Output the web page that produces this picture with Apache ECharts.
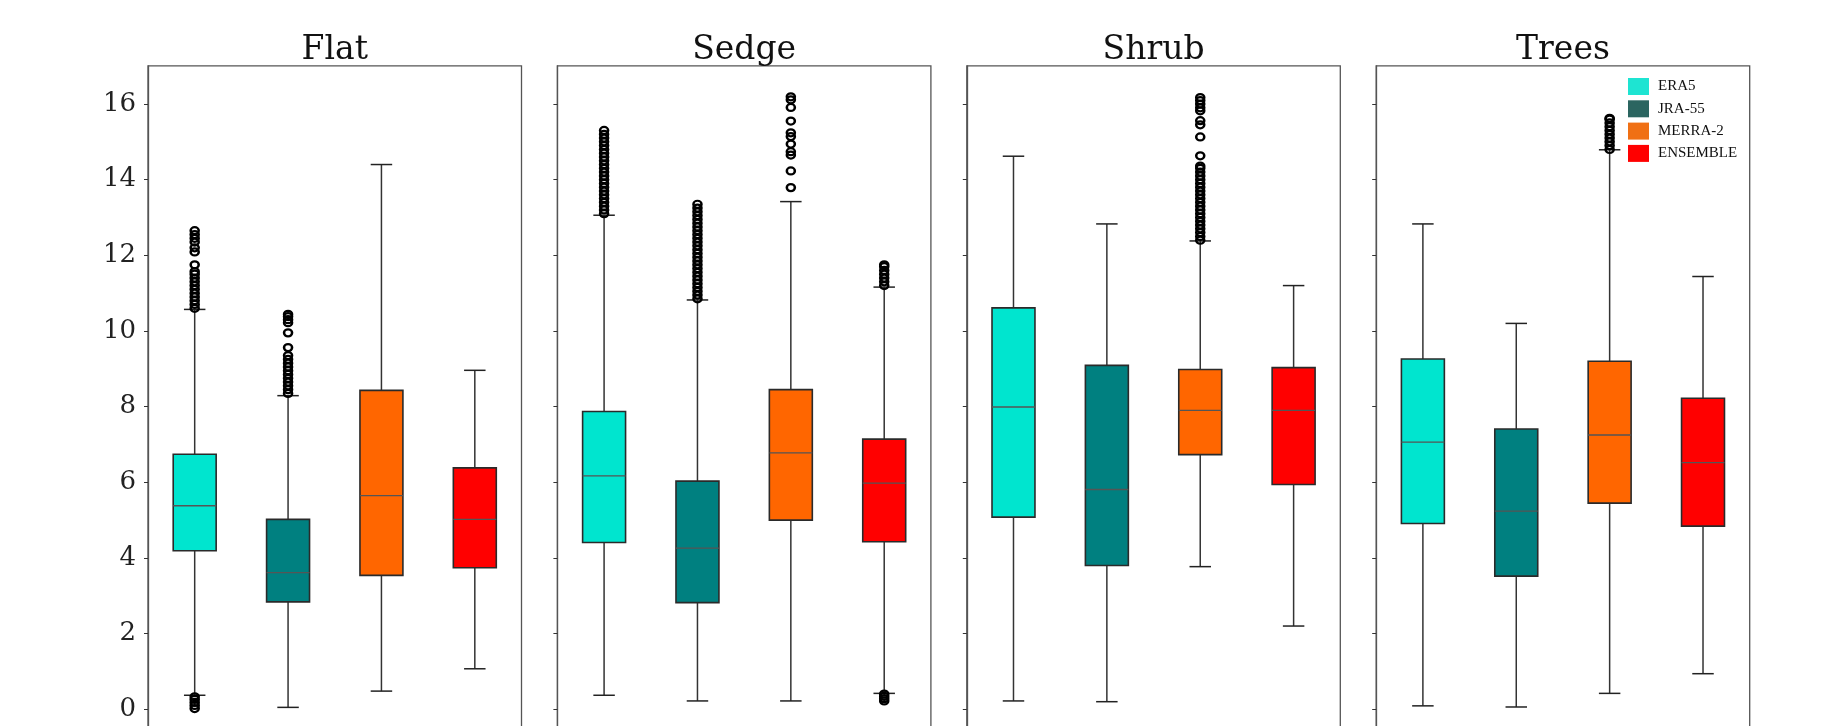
<!DOCTYPE html>
<html>
<head>
<meta charset="utf-8">
<script src="https://cdn.jsdelivr.net/npm/echarts@6/dist/echarts.min.js"></script>
<style>
  html, body { margin: 0; padding: 0; background: #fff; }
  #chart { width: 1821px; height: 726px; }
</style>
</head>
<body>
<div id="chart"></div>
<script>
// panels and reanalysis products
const panels = ['Flat', 'Sedge', 'Shrub', 'Trees']
const datasets = ['ERA5', 'JRA-55', 'MERRA-2', 'ENSEMBLE']
const yTicks = [0, 2, 4, 6, 8, 10, 12, 14, 16]

// [lower whisker, q1, median, q3, upper whisker] per dataset
const flatStats = [
  [0.37, 4.19, 5.38, 6.74, 10.57],
  [0.05, 2.84, 3.61, 5.02, 8.29],
  [0.48, 3.54, 5.65, 8.43, 14.4],
  [1.07, 3.74, 5.02, 6.38, 8.96]
]
const sedgeStats = [
  [0.37, 4.41, 6.17, 7.87, 13.06],
  [0.22, 2.82, 4.26, 6.03, 10.82],
  [0.22, 5.0, 6.78, 8.45, 13.42],
  [0.42, 4.43, 5.98, 7.14, 11.16]
]
const shrubStats = [
  [0.22, 5.08, 7.99, 10.61, 14.62],
  [0.2, 3.8, 5.81, 9.09, 12.83],
  [3.77, 6.73, 7.9, 8.98, 12.38],
  [2.2, 5.94, 7.9, 9.03, 11.2]
]
const treesStats = [
  [0.09, 4.91, 7.06, 9.26, 12.83],
  [0.06, 3.52, 5.24, 7.41, 10.2],
  [0.42, 5.45, 7.25, 9.2, 14.79],
  [0.94, 4.84, 6.52, 8.22, 11.44]
]

// outliers (fliers) per dataset
const flatOutliers = [
  [0.02, 0.1, 0.18, 0.26, 0.33, 10.6, 10.7, 10.8, 10.9, 11.0, 11.1, 11.2, 11.3, 11.4, 11.5, 11.57,
    11.75, 12.09, 12.2, 12.35, 12.45, 12.55, 12.65],
  [8.35, 8.45, 8.55, 8.65, 8.75, 8.85, 8.95, 9.05, 9.15, 9.25, 9.35, 9.56, 9.95, 10.22, 10.3, 10.38, 10.44],
  [],
  []
]
const sedgeOutliers = [
  [13.1, 13.2, 13.3, 13.4, 13.5, 13.6, 13.7, 13.8, 13.9, 14.0, 14.1, 14.2, 14.3, 14.4, 14.5, 14.6,
    14.7, 14.8, 14.9, 15.0, 15.1, 15.2, 15.3],
  [10.85, 10.95, 11.05, 11.15, 11.25, 11.35, 11.45, 11.55, 11.65, 11.75, 11.85, 11.95, 12.05, 12.15,
    12.25, 12.35, 12.45, 12.55, 12.65, 12.75, 12.85, 12.95, 13.05, 13.15, 13.25, 13.35],
  [13.79, 14.23, 14.65, 14.74, 14.94, 15.14, 15.24, 15.55, 15.91, 16.11, 16.19],
  [0.22, 0.28, 0.34, 0.4, 11.2, 11.3, 11.4, 11.5, 11.6, 11.7, 11.75]
]
const shrubOutliers = [
  [],
  [],
  [12.4, 12.5, 12.6, 12.7, 12.8, 12.9, 13.0, 13.1, 13.2, 13.3, 13.4, 13.5, 13.6, 13.7, 13.8, 13.9,
    14.0, 14.1, 14.2, 14.3, 14.36, 14.63, 15.13, 15.45, 15.56, 15.82, 15.9, 16.0, 16.09, 16.17],
  []
]
const treesOutliers = [
  [],
  [],
  [14.8, 14.9, 15.0, 15.1, 15.2, 15.3, 15.4, 15.5, 15.6, 15.62],
  []
]

const allStats = [flatStats, sedgeStats, shrubStats, treesStats]
const allOutliers = [flatOutliers, sedgeOutliers, shrubOutliers, treesOutliers]

const boxColors = ['#00e5cf', '#008080', '#ff6600', '#ff0000']
const legendColors = ['#1ee4d2', '#2b6560', '#f07014', '#ff0000']

// layout
const gridLeft = [148, 557.4, 966.8, 1376.2]
const gridWidth = 373.5
const gridTop = 65.8
const gridHeight = 674.1

function renderBox(params, api) {
  const d = api.value(0)
  const low = api.coord([d, api.value(1)])
  const q1 = api.coord([d, api.value(2)])[1]
  const med = api.coord([d, api.value(3)])[1]
  const q3 = api.coord([d, api.value(4)])[1]
  const high = api.coord([d, api.value(5)])[1]
  const x = low[0]
  const half = api.size([1, 0])[0] * 0.23
  const cap = half / 2
  const line = (x1, y1, x2, y2, stroke, w) => ({
    type: 'line', shape: { x1, y1, x2, y2 }, style: { stroke, lineWidth: w }
  })
  return {
    type: 'group',
    children: [
      line(x, low[1], x, q1, '#333', 1.5),
      line(x, q3, x, high, '#333', 1.5),
      line(x - cap, low[1], x + cap, low[1], '#222', 1.5),
      line(x - cap, high, x + cap, high, '#222', 1.5),
      {
        type: 'rect',
        shape: { x: x - half, y: q3, width: half * 2, height: q1 - q3 },
        style: { fill: api.visual('color'), stroke: '#2a2a2a', lineWidth: 1.6 }
      },
      line(x - half, med, x + half, med, '#555', 1.3)
    ]
  }
}

const grid = []
const xAxis = []
const yAxis = []
const title = []
const series = []

panels.forEach((name, p) => {
  grid.push({
    left: gridLeft[p], top: gridTop, width: gridWidth, height: gridHeight,
    outerBoundsMode: 'none', containLabel: false,
    show: true, borderColor: '#555', borderWidth: 1.3, backgroundColor: 'transparent'
  })
  xAxis.push({ type: 'category', gridIndex: p, data: datasets, show: false })
  yAxis.push({
    type: 'value', gridIndex: p, min: -0.81, max: 17.01,
    splitLine: { show: false },
    axisLine: { show: true, lineStyle: { color: '#555', width: 1.3 } },
    axisTick: { show: true, length: 4, customValues: yTicks, lineStyle: { color: '#333' } },
    axisLabel: {
      show: p === 0, customValues: yTicks, margin: 12,
      fontFamily: 'DejaVu Serif', fontSize: 26, color: '#222'
    }
  })
  title.push({
    text: name, left: gridLeft[p] + gridWidth / 2, top: 34, textAlign: 'center', padding: 0,
    textStyle: { fontFamily: 'DejaVu Serif', fontSize: 33, fontWeight: 'normal', color: '#111', lineHeight: 33 }
  })
  datasets.forEach((ds, d) => {
    series.push({
      type: 'custom',
      name: ds,
      xAxisIndex: p,
      yAxisIndex: p,
      itemStyle: { color: boxColors[d] },
      renderItem: renderBox,
      encode: { x: 0, y: [1, 2, 3, 4, 5] },
      data: [[d].concat(allStats[p][d])],
      z: 2
    })
  })
  const pts = []
  allOutliers[p].forEach((vals, d) => vals.forEach(v => pts.push([d, v])))
  series.push({
    type: 'scatter',
    name: 'outliers',
    xAxisIndex: p,
    yAxisIndex: p,
    symbol: 'circle',
    symbolSize: [8, 7],
    itemStyle: { color: 'rgba(0,0,0,0)', borderColor: '#000', borderWidth: 2.4, opacity: 1 },
    data: pts,
    z: 3
  })
})

const chart = echarts.init(document.getElementById('chart'))
chart.setOption({
  animation: false,
  backgroundColor: '#fff',
  title,
  grid,
  xAxis,
  yAxis,
  legend: {
    orient: 'vertical',
    left: 1628,
    top: 78,
    padding: 0,
    itemWidth: 21,
    itemHeight: 17,
    itemGap: 5.3,
    icon: 'rect',
    selectedMode: false,
    textStyle: { fontFamily: 'Liberation Serif', fontSize: 15, color: '#111', padding: [0, 0, 0, 4] },
    data: datasets.map((n, i) => ({ name: n, itemStyle: { color: legendColors[i] } }))
  },
  series
})
</script>
</body>
</html>
